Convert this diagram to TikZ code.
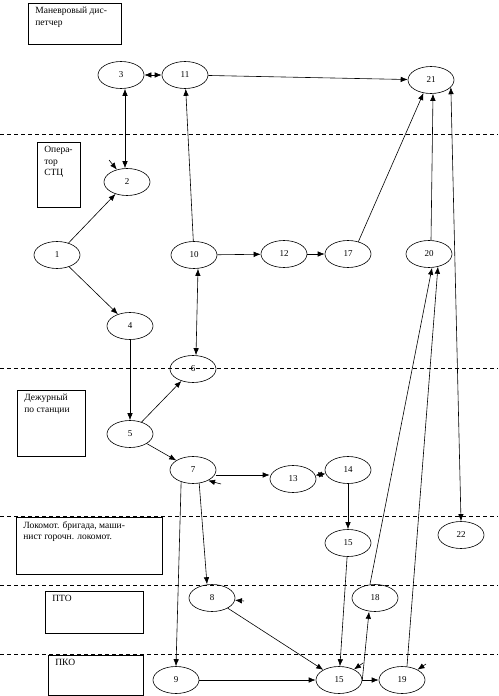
\documentclass[tikz,border=0pt]{standalone}
\usepackage{fontspec}
\setmainfont{Liberation Serif}
\usetikzlibrary{
  arrows.meta,
  positioning,
  shapes.geometric
}

\begin{document}
\begin{tikzpicture}[
  x=1pt, y=-1pt,
  event/.style={
    draw, ellipse, minimum width=46pt, minimum height=27pt,
    inner sep=0pt, line width=0.6pt, font=\fontsize{9}{10}\selectfont,
  },
  lanebox/.style={
    draw, anchor=north west, inner xsep=7pt, inner ysep=4pt,
    line width=0.7pt, font=\fontsize{9.5}{11.5}\selectfont,
  },
  sep/.style={dash pattern=on 4pt off 3pt, line width=0.6pt},
  arrow/.style={-{Latex[length=7pt,width=5.5pt]}, line width=0.6pt},
  twoway/.style={{Latex[length=7pt,width=5.5pt]}-{Latex[length=7pt,width=5.5pt]}, line width=0.6pt},
]
\useasboundingbox (0,0) rectangle (498,696);

% lane separators
\foreach \y in {134,368,516,585,654}
  \draw[sep] (0,\y) -- (498,\y);

% lanes
\node[lanebox] (disp) at (28,3) {\parbox[c][33pt][t]{79pt}{Маневровый дис-\\петчер}};
\node[lanebox] (stc) at (37,142) {\parbox[c][57pt][t]{29pt}{Опера-\\тор\\СТЦ}};
\node[lanebox] (duty) at (17,390) {\parbox[c][58pt][t]{54pt}{Дежурный\\по станции}};
\node[lanebox] (loco) at (16,517) {\parbox[c][49pt][t]{132pt}{Локомот. бригада, маши-\\нист горочн. локомот.}};
\node[lanebox] (pto) at (45,591) {\parbox[c][34pt][t]{84pt}{ПТО}};
\node[lanebox] (pko) at (48,655) {\parbox[c][32pt][t]{81pt}{ПКО}};

% events
\node[event] (e1) at (57,255) {1};
\node[event] (e2) at (127,182) {2};
\node[event] (e3) at (121,75) {3};
\node[event] (e4) at (130,326) {4};
\node[event] (e5) at (130,434) {5};
\node[event] (e6) at (193,369) {6};
\node[event] (e7) at (193,470) {7};
\node[event] (e8) at (212,598) {8};
\node[event] (e9) at (176,680) {9};
\node[event] (e10) at (194,255) {10};
\node[event] (e11) at (185,75) {11};
\node[event] (e12) at (284,254) {12};
\node[event] (e13) at (293,479) {13};
\node[event] (e14) at (348,470) {14};
\node[event] (e15a) at (348,543) {15};
\node[event] (e15b) at (339,680) {15};
\node[event] (e17) at (348,254) {17};
\node[event] (e18) at (375,598) {18};
\node[event] (e19) at (402,680) {19};
\node[event] (e20) at (429,254) {20};
\node[event] (e21) at (431,80) {21};
\node[event] (e22) at (461,535) {22};

% loose arrow tips
\coordinate (s2) at (109,160);
\coordinate (s7) at (221,484);
\coordinate (s8) at (244,601);
\coordinate (s15) at (363,663);
\coordinate (s19) at (426,664);
\draw[arrow] (s2) -- (e2);
\draw[arrow] (s7) -- (e7.-35);
\draw[arrow] (s8) -- (e8);
\draw[arrow] (s15) -- (e15b);
\draw[arrow] (s19) -- (e19);

% connections
\draw[twoway] (e3) -- (e11);
\draw[arrow] (e11) -- (e21);
\draw[twoway] ([xshift=4pt]e3.south) -- ([xshift=-2pt]e2.north);
\draw[arrow] (e1) -- (e2);
\draw[arrow] (e1) -- (e4);
\draw[arrow] (e4) -- (e5);
\draw[arrow] (e5) -- (e6);
\draw[arrow] (e5) -- (e7);
\draw[twoway] ([xshift=3pt]e6.north) -- ([xshift=4pt]e10.south);
\draw[arrow] (e10) -- (e11);
\draw[arrow] (e10) -- (e12);
\draw[arrow] (e12) -- (e17);
\draw[arrow] (e17.50) -- (e21.240);
\draw[arrow] ([xshift=2pt]e20.north) -- ([xshift=2pt]e21.south);
\draw[twoway] (e21.-20) -- (e22.north);
\draw[arrow] ([yshift=-5pt]e7.east) -- ([yshift=4pt]e13.west);
\draw[twoway] (e13) -- (e14);
\draw[arrow] (e14) -- (e15a);
\draw[arrow] (e15a) -- (e15b);
\draw[arrow] (e7.295) -- ([xshift=-5pt]e8.north);
\draw[arrow] (e7.225) -- (e9.north);
\draw[arrow] (e8) -- (e15b);
\draw[arrow] (e9) -- (e15b);
\draw[arrow] (e15b) -- (e19);
\draw[arrow] (e15b.east) -- ([xshift=-6pt]e18.south);
\draw[arrow] ([xshift=-5pt]e18.north) -- ([xshift=3pt]e20.south);
\draw[arrow] ([xshift=5pt]e19.north) -- (e20.-55);

\end{tikzpicture}
\end{document}
